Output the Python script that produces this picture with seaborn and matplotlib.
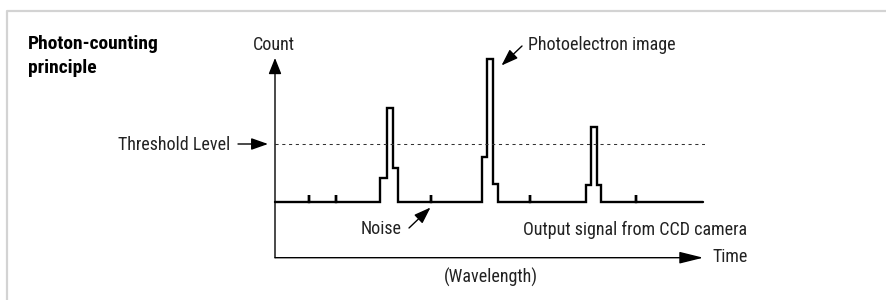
import matplotlib
matplotlib.use("Agg")
import matplotlib.pyplot as plt
from matplotlib import font_manager
from matplotlib.lines import Line2D
import seaborn as sns

# ---------------- data ----------------
# signal vertices (time units, count units) drawn as a step function
signal_time = [0, 7.9, 7.9, 14.3, 14.3, 24.4, 26.0, 27.5, 28.5,
               36.3, 36.3, 48.1, 49.2, 50.8, 51.8,
               59.3, 59.3, 72.3, 73.6, 74.8, 75.9,
               83.9, 83.9, 99.5]
signal_count = [2.0, 2.25, 2.0, 2.25, 2.0, 2.86, 5.38, 3.23, 2.0,
                2.25, 2.0, 3.63, 7.13, 2.65, 2.0,
                2.25, 2.0, 2.61, 4.70, 2.61, 2.0,
                2.25, 2.0, 2.0]
threshold = 4.08
x_max = 99.6
y_max = 7.17

title_lines = ["Photon-counting", "principle"]
y_label = "Count"
x_label = "Time"
x_sub_label = "(Wavelength)"
lbl_threshold = "Threshold Level"
lbl_photo = "Photoelectron image"
lbl_noise = "Noise"
lbl_output = "Output signal from CCD camera"

# ---------------- style ----------------
sns.set_theme(style="white")
names = {f.name for f in font_manager.fontManager.ttflist}
family = "Roboto"
for cand in ["Roboto Condensed", "Liberation Sans Narrow", "Open Sans Condensed", "Roboto"]:
    if cand in names:
        family = cand
        break
plt.rcParams["font.family"] = [family, "DejaVu Sans"]

W, H = 886, 300
fig = plt.figure(figsize=(W / 100, H / 100), dpi=100)
fig.patch.set_facecolor("white")

def fp(x, y):
    return (x / W, 1 - y / H)

# axes mapped: x 0..100 -> px 275..705, y 0..y_max -> px 257.7..58
ax_l, ax_r, ax_b, ax_t = 275, 705, 257.7, 58
ax = fig.add_axes([ax_l / W, 1 - ax_b / H, (ax_r - ax_l) / W, (ax_b - ax_t) / H])
ax.set_xlim(0, 100)
ax.set_ylim(0, y_max)
ax.axis("off")

sns.lineplot(x=signal_time, y=signal_count, sort=False, estimator=None,
             drawstyle="steps-post", color="black", lw=1.7, ax=ax,
             solid_joinstyle="miter", clip_on=False)

ax.axhline(threshold, xmin=0, xmax=1, color="#333333", lw=0.75,
           linestyle=(0, (3, 3.5)))

ax_arrow = dict(arrowstyle="-|>,head_length=0.7,head_width=0.28",
                mutation_scale=14, lw=1.0, color="black", shrinkA=0, shrinkB=0)
ax.annotate("", xy=(0, y_max), xytext=(0, 0), arrowprops=ax_arrow,
            annotation_clip=False)
ax.annotate("", xy=(x_max, 0), xytext=(0, 0),
            arrowprops=dict(ax_arrow, arrowstyle="-|>,head_length=1.05,head_width=0.26"),
            annotation_clip=False)

small_arrow = dict(arrowstyle="-|>,head_length=0.85,head_width=0.3",
                   mutation_scale=12, lw=1.0, color="black", shrinkA=0, shrinkB=0)
ax.annotate("", xy=fp(268, 144), xytext=fp(238, 144), xycoords="figure fraction",
            textcoords="figure fraction", arrowprops=small_arrow)
ax.annotate("", xy=fp(501.5, 65.5), xytext=fp(522, 46), xycoords="figure fraction",
            textcoords="figure fraction", arrowprops=small_arrow)
ax.annotate("", xy=fp(430.5, 207.5), xytext=fp(409, 228), xycoords="figure fraction",
            textcoords="figure fraction", arrowprops=small_arrow)

fs = 13
tc = "#222222"
fig.text(*fp(28, 44), title_lines[0], fontsize=14, fontweight="bold", ha="left", va="center", color="black")
fig.text(*fp(28, 68), title_lines[1], fontsize=14, fontweight="bold", ha="left", va="center", color="black")
fig.text(*fp(274, 45), y_label, fontsize=fs, ha="center", va="center", color=tc)
fig.text(*fp(230, 145), lbl_threshold, fontsize=fs, ha="right", va="center", color=tc)
fig.text(*fp(528, 45), lbl_photo, fontsize=fs, ha="left", va="center", color=tc)
fig.text(*fp(402, 229), lbl_noise, fontsize=fs, ha="right", va="center", color=tc)
fig.text(*fp(747, 230), lbl_output, fontsize=fs, ha="right", va="center", color=tc)
fig.text(*fp(712, 257), x_label, fontsize=fs, ha="left", va="center", color=tc)
fig.text(*fp(491, 277), x_sub_label, fontsize=fs, ha="center", va="center", color=tc)

# panel frame (left and top edges)
fig.add_artist(Line2D([7 / W, 7 / W, 1], [0, 1 - 11 / H, 1 - 11 / H],
                      transform=fig.transFigure, color="#d3d3d3", lw=1.6))

fig.savefig("out.png", dpi=100, facecolor="white")
